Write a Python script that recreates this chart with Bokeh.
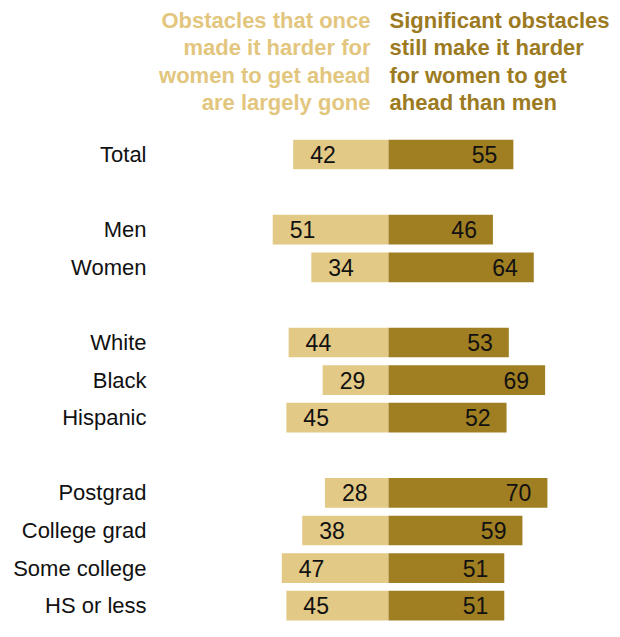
from bokeh.plotting import figure
from bokeh.models import Range1d, ColumnDataSource
from bokeh.core.properties import value
from bokeh.embed import file_html
from bokeh.resources import INLINE

# ---- data ----
groups = [
    ["Total"],
    ["Men", "Women"],
    ["White", "Black", "Hispanic"],
    ["Postgrad", "College grad", "Some college", "HS or less"],
]
gone = [42, 51, 34, 44, 29, 45, 28, 38, 47, 45]
still = [55, 46, 64, 53, 69, 52, 70, 59, 51, 51]
header_left = ["Obstacles that once", "made it harder for", "women to get ahead", "are largely gone"]
header_right = ["Significant obstacles", "still make it harder", "for women to get", "ahead than men"]

# ---- layout ----
LIGHT = "#E2C985"
DARK = "#A07E22"
LIGHT_TXT = "#E3C67E"
DARK_TXT = "#9C7A22"
FONT = "Liberation Sans"

categories, slots = [], []
s = 0
for g in groups:
    for c in g:
        categories.append(c)
        slots.append(s)
        s += 1
    s += 1

W, H = 612, 621
PX = 2.27          # pixels per percentage point
CENTER = 388       # plot-x of the zero line
ROW = 37.6         # pixels per row slot
FIRST = 154        # plot-y of first row centre

x_start = -CENTER / PX
x_end = (W - CENTER) / PX
y_top = -FIRST / ROW
y_bottom = (H - FIRST) / ROW

p = figure(width=W, height=H, x_range=Range1d(x_start, x_end),
           y_range=Range1d(y_bottom, y_top), output_backend="svg",
           toolbar_location=None, min_border=0)
p.axis.visible = False
p.grid.visible = False
p.outline_line_color = None
p.background_fill_color = "white"
p.border_fill_color = "white"

src = ColumnDataSource(dict(
    y=slots, cat=categories,
    gone_left=[-v for v in gone], still=still,
    gone_txt=[str(v) for v in gone], still_txt=[str(v) for v in still],
    zero=[0] * len(slots),
))

p.hbar(y="y", left="gone_left", right="zero", height=0.79, color=LIGHT, line_color=None, source=src)
p.hbar(y="y", left="zero", right="still", height=0.79, color=DARK, line_color=None, source=src)

p.text(x="gone_left", y="y", text="gone_txt", source=src, x_offset=17,
       text_align="left", text_baseline="middle", text_font=value(FONT),
       text_font_size="23px", text_color="#111111")
p.text(x="still", y="y", text="still_txt", source=src, x_offset=-16,
       text_align="right", text_baseline="middle", text_font=value(FONT),
       text_font_size="23px", text_color="#111111")
p.text(x="zero", y="y", text="cat", source=src, x_offset=-242,
       text_align="right", text_baseline="middle", text_font=value(FONT),
       text_font_size="22px", text_color="#111111")

# headers
base_px = [28, 55.3, 82.6, 110]
yoff = [b - 8 - FIRST for b in base_px]
for i in range(4):
    p.text(x=[0], y=[0], text=[header_left[i]], x_offset=-18, y_offset=yoff[i],
           text_align="right", text_baseline="alphabetic", text_font=value(FONT),
           text_font_style="bold", text_font_size="22px", text_color=LIGHT_TXT)
    p.text(x=[0], y=[0], text=[header_right[i]], x_offset=1, y_offset=yoff[i],
           text_align="left", text_baseline="alphabetic", text_font=value(FONT),
           text_font_style="bold", text_font_size="22px", text_color=DARK_TXT)

open("out.html", "w").write(file_html(p, INLINE))
